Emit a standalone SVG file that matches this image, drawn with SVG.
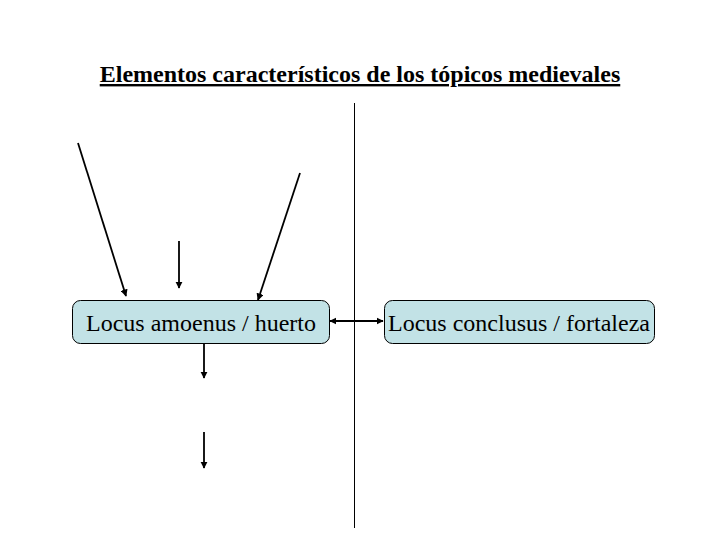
<svg xmlns="http://www.w3.org/2000/svg" width="720" height="540" viewBox="0 0 720 540">
<style>
.node rect{fill:#c2e2e6;stroke:#000;stroke-width:1}
.node text{font-family:"Liberation Serif",serif;font-size:24px;fill:#000;text-anchor:middle}
.title{font-family:"Liberation Serif",serif;font-size:24px;font-weight:bold;text-anchor:middle;text-decoration:underline}
.conn line{stroke:#000;stroke-width:1.8;fill:none}
</style>
<defs>
<marker id="ah" viewBox="0 0 10 10" refX="9" refY="5" markerWidth="4" markerHeight="4" orient="auto-start-reverse" markerUnits="strokeWidth">
<path d="M0,0 L10,5 L0,10 z" fill="#000"/>
</marker>
</defs>
<rect width="720" height="540" fill="#fff"/>
<text class="title" x="360" y="82">Elementos característicos de los tópicos medievales</text>
<g id="divider"><line x1="354.5" y1="103" x2="354.5" y2="528" stroke="#000" stroke-width="1"/></g>
<g id="node-amoenus" class="node">
<rect x="72.5" y="300.5" width="257" height="43" rx="8"/>
<text x="201" y="331">Locus amoenus / huerto</text>
</g>
<g id="node-conclusus" class="node">
<rect x="384.5" y="300.5" width="270" height="43" rx="8"/>
<text x="519" y="331">Locus conclusus / fortaleza</text>
</g>
<g id="connectors" class="conn">
<line x1="78" y1="143" x2="126" y2="296" marker-end="url(#ah)"/>
<line x1="179" y1="241" x2="179" y2="288" marker-end="url(#ah)"/>
<line x1="300" y1="173" x2="258" y2="300" marker-end="url(#ah)"/>
<line x1="330" y1="321" x2="383" y2="321" marker-start="url(#ah)" marker-end="url(#ah)"/>
<line x1="204" y1="344" x2="204" y2="378" marker-end="url(#ah)"/>
<line x1="204" y1="432" x2="204" y2="468" marker-end="url(#ah)"/>
</g>
</svg>
